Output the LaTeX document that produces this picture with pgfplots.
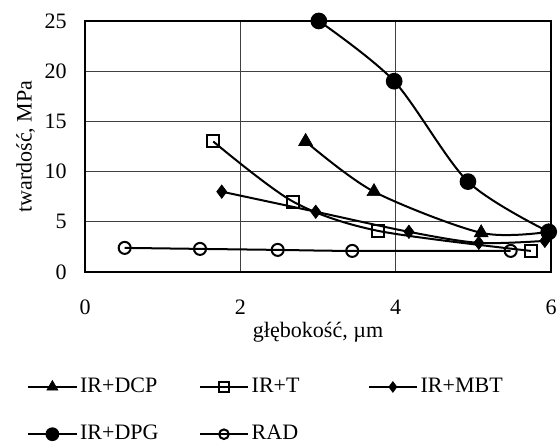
\documentclass[border=0pt]{standalone}
\usepackage{fontspec}
\setmainfont{Liberation Serif}
\usepackage{pgfplots}
\pgfplotsset{compat=1.18}

\begin{document}
\fontsize{16.5}{19}\selectfont
\begin{tikzpicture}
\begin{axis}[
    name=ax,
    scale only axis,
    width=349pt, height=188pt,
    xmin=0, xmax=6, ymin=0, ymax=25,
    xtick={0,2,4,6}, ytick={0,5,10,15,20,25},
    major tick length=0pt,
    grid=major, grid style={black!75, line width=0.6pt},
    axis line style={line width=1pt},
    /pgf/number format/assume math mode=true,
    ticklabel style={font=\fontsize{16.5}{19}\selectfont},
    xticklabel style={yshift=-15.5pt},
    yticklabel style={xshift=-8pt},
    xlabel={głębokość, µm},
    ylabel={twardość, MPa},
    label style={font=\fontsize{16.5}{19}\selectfont},
    xlabel style={yshift=6pt},
    ylabel style={yshift=-4pt},
    clip=false,
    legend columns=3,
    legend style={at={(axis description cs:-0.133,-0.40)}, anchor=north west,
        draw=none, fill=none, font=\fontsize{16.5}{19}\selectfont,
        /tikz/every even column/.append style={column sep=0pt},
        row sep=18pt},
    legend cell align=left,
    legend image code/.code={%
        \draw[mark repeat=2, mark phase=2, #1, every mark/.append style={scale=0.8}]
            plot coordinates {(0pt,0pt) (18pt,0pt) (36pt,0pt)};},
    every axis plot/.append style={black, line width=1.5pt, smooth, tension=0.5},
]
\addplot[mark=triangle*, mark size=6pt, mark options={line width=0.5pt}]
    coordinates {(2.84,13) (3.72,8) (5.1,3.9) (5.97,4)};
\addlegendentry{\makebox[87pt][l]{IR+DCP}}
\addplot[mark=square, mark size=4.5pt, mark options={line width=1.5pt, solid}]
    coordinates {(1.65,13) (2.68,7) (3.77,4.1) (5.74,2.1)};
\addlegendentry{\makebox[85pt][l]{IR+T}}
\addplot[mark=diamond*, mark size=5pt, mark options={line width=0.5pt}]
    coordinates {(1.76,8) (2.97,6) (4.17,4) (5.07,2.9) (5.92,3.1)};
\addlegendentry{IR+MBT}
\addplot[mark=*, mark size=5.5pt]
    coordinates {(3.01,25) (3.98,19) (4.93,9) (5.97,4)};
\addlegendentry{\makebox[87pt][l]{IR+DPG}}
\addplot[mark=o, mark size=4.5pt, mark options={fill=white}]
    coordinates {(0.51,2.4) (1.48,2.3) (2.48,2.2) (3.44,2.1) (5.48,2.1)};
\addlegendentry{\makebox[85pt][l]{RAD}}
\end{axis}
\pgfresetboundingbox
\path ([shift={(-63.7pt,-130.3pt)}]ax.south west) rectangle ([shift={(6.7pt,15.7pt)}]ax.north east);
\end{tikzpicture}
\end{document}
